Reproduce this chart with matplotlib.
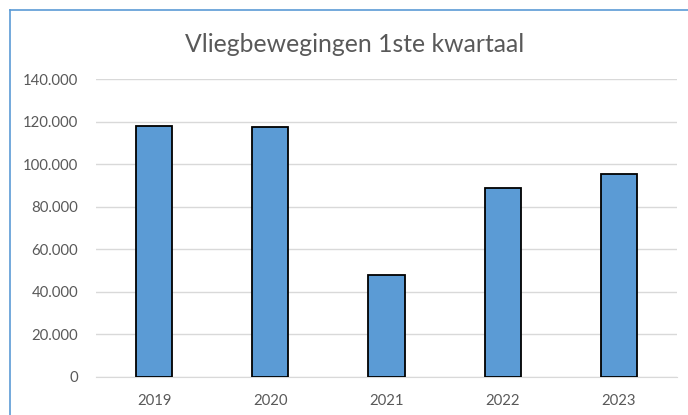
import numpy as np
import matplotlib.pyplot as plt
from matplotlib.ticker import FuncFormatter
from matplotlib.lines import Line2D

# data
years = ['2019', '2020', '2021', '2022', '2023']
flights = [118000, 117300, 48000, 88800, 95500]
yticks = [0, 20000, 40000, 60000, 80000, 100000, 120000, 140000]

plt.rcParams['font.family'] = ['Lato', 'DejaVu Sans']
grey = '#595959'

fig = plt.figure(figsize=(6.88, 4.15), dpi=100)
ax = fig.add_axes([96/688, 1-377/415, 581/688, 298/415])

x = np.arange(len(years))
ax.bar(x, flights, width=0.31, color='#5b9bd5', edgecolor='black', linewidth=1.3, zorder=3)

ax.set_xlim(-0.5, len(years) - 0.5)
ax.set_ylim(0, 140000)
ax.set_yticks(yticks)
ax.yaxis.set_major_formatter(FuncFormatter(lambda v, p: f'{int(v):,}'.replace(',', '.')))
ax.set_xticks(x)
ax.set_xticklabels(years)
ax.grid(axis='y', color='#d9d9d9', linewidth=1.0, zorder=0)
ax.tick_params(axis='both', length=0, colors=grey, labelsize=10.7)
ax.tick_params(axis='y', pad=13)
ax.tick_params(axis='x', pad=12)
for s in ['top', 'right', 'left']:
    ax.spines[s].set_visible(False)
ax.spines['bottom'].set_color('#d9d9d9')
ax.spines['bottom'].set_zorder(1)

fig.text(355/688, 1-45/415, 'Vliegbewegingen 1ste kwartaal', ha='center', va='center',
         fontsize=17.8, color=grey)

# chart frame (only left and top edges fall inside the picture)
bc = '#5b9bd5'
fig.add_artist(Line2D([10/688, 10/688], [0, 1-10/415], color=bc, linewidth=1.2))
fig.add_artist(Line2D([10/688, 1], [1-10/415, 1-10/415], color=bc, linewidth=1.2))

fig.savefig('out.png', dpi=100)
